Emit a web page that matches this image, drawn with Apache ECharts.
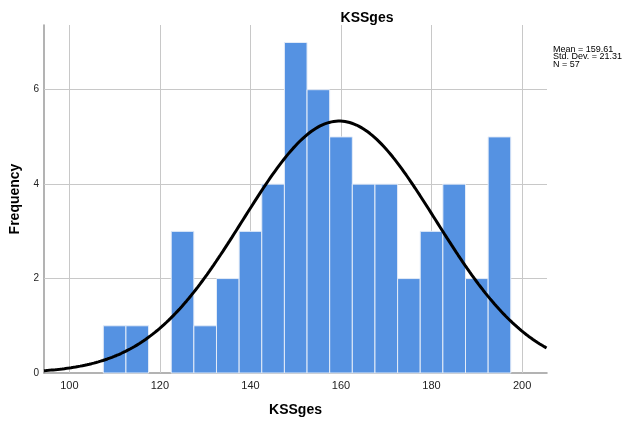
<!DOCTYPE html>
<html>
<head>
<meta charset="utf-8">
<script src="https://cdn.jsdelivr.net/npm/echarts@6/dist/echarts.min.js"></script>
<style>
  html, body { margin: 0; padding: 0; background: #fff; }
  #chart { width: 627px; height: 422px; }
</style>
</head>
<body>
<div id="chart"></div>
<script>
// Histogram of KSSges with a fitted normal curve
const binStarts = [107.5, 112.5, 117.5, 122.5, 127.5, 132.5, 137.5, 142.5, 147.5,
                   152.5, 157.5, 162.5, 167.5, 172.5, 177.5, 182.5, 187.5, 192.5];
const counts    = [1, 1, 0, 3, 1, 2, 3, 4, 7, 6, 5, 4, 4, 2, 3, 4, 2, 5];
const binWidth = 5;

const xTicks = [100, 120, 140, 160, 180, 200];
const yTicks = [0, 2, 4, 6];

const meanValue = 159.61;
const stdDev = 21.31;
const nCases = 57;

const xMin = 94.4, xMax = 205.5, yMax = 7.37;

// expected frequency per bin under the normal distribution
const curve = [];
for (let x = xMin; x <= xMax + 1e-9; x += 0.5) {
  const z = (x - meanValue) / stdDev;
  const y = nCases * binWidth * Math.exp(-0.5 * z * z) / (stdDev * Math.sqrt(2 * Math.PI));
  curve.push([x, y]);
}

const bars = binStarts.map((b, i) => [b, counts[i]]);
const font = '"Liberation Sans", Arial, sans-serif';
const gridColor = '#c8c8c8';

const chart = echarts.init(document.getElementById('chart'), null, { renderer: 'canvas' });
chart.setOption({
  animation: false,
  backgroundColor: '#ffffff',
  grid: { left: 43, right: 80, top: 25, bottom: 46, containLabel: false },
  title: {
    text: 'KSSges',
    left: 362, top: 6, textAlign: 'center',
    textStyle: { fontFamily: font, fontSize: 14, fontWeight: 'bold', color: '#000' }
  },
  graphic: [{
    type: 'text', left: 553, top: 45,
    style: {
      text: 'Mean = ' + meanValue.toFixed(2) + '\nStd. Dev. = ' + stdDev.toFixed(2) + '\nN = ' + nCases,
      font: '9px ' + font, fill: '#000', lineHeight: 7.5
    }
  }],
  xAxis: {
    type: 'value', min: xMin, max: xMax,
    name: 'KSSges', nameLocation: 'middle', nameGap: 30,
    nameTextStyle: { fontFamily: font, fontSize: 14, fontWeight: 'bold', color: '#000' },
    axisLine: { show: true, lineStyle: { color: '#9a9a9a', width: 1.5 } },
    axisTick: { show: false },
    splitLine: { show: false },
    axisLabel: { customValues: xTicks, fontFamily: font, fontSize: 11, color: '#222', margin: 7 }
  },
  yAxis: {
    type: 'value', min: 0, max: yMax,
    name: 'Frequency', nameLocation: 'middle', nameGap: 22,
    nameTextStyle: { fontFamily: font, fontSize: 14, fontWeight: 'bold', color: '#000' },
    axisLine: { show: true, lineStyle: { color: '#9a9a9a', width: 1.5 } },
    axisTick: { show: false },
    splitLine: { show: false },
    axisLabel: { customValues: yTicks, fontFamily: font, fontSize: 10, color: '#222', margin: 5 }
  },
  series: [
    {
      // grid lines at the labelled values, kept behind the bars
      type: 'line', data: [], z: 1, silent: true,
      markLine: {
        z: 1,
        silent: true, symbol: 'none', label: { show: false },
        lineStyle: { color: gridColor, width: 1, type: 'solid' },
        data: xTicks.map(v => ({ xAxis: v }))
          .concat(yTicks.filter(v => v > 0).map(v => ({ yAxis: v })))
      }
    },
    {
      type: 'custom', z: 2,
      data: bars,
      renderItem: function (params, api) {
        const lo = api.value(0), c = api.value(1);
        if (!c) return null;
        const p0 = api.coord([lo, c]);
        const p1 = api.coord([lo + binWidth, 0]);
        return {
          type: 'rect',
          shape: { x: p0[0], y: p0[1], width: p1[0] - p0[0], height: p1[1] - p0[1] },
          style: { fill: '#5592e2', stroke: '#e4ecf8', lineWidth: 1 }
        };
      }
    },
    {
      type: 'line', z: 3, data: curve, showSymbol: false, smooth: false,
      lineStyle: { color: '#000', width: 3 }
    }
  ]
});
</script>
</body>
</html>
